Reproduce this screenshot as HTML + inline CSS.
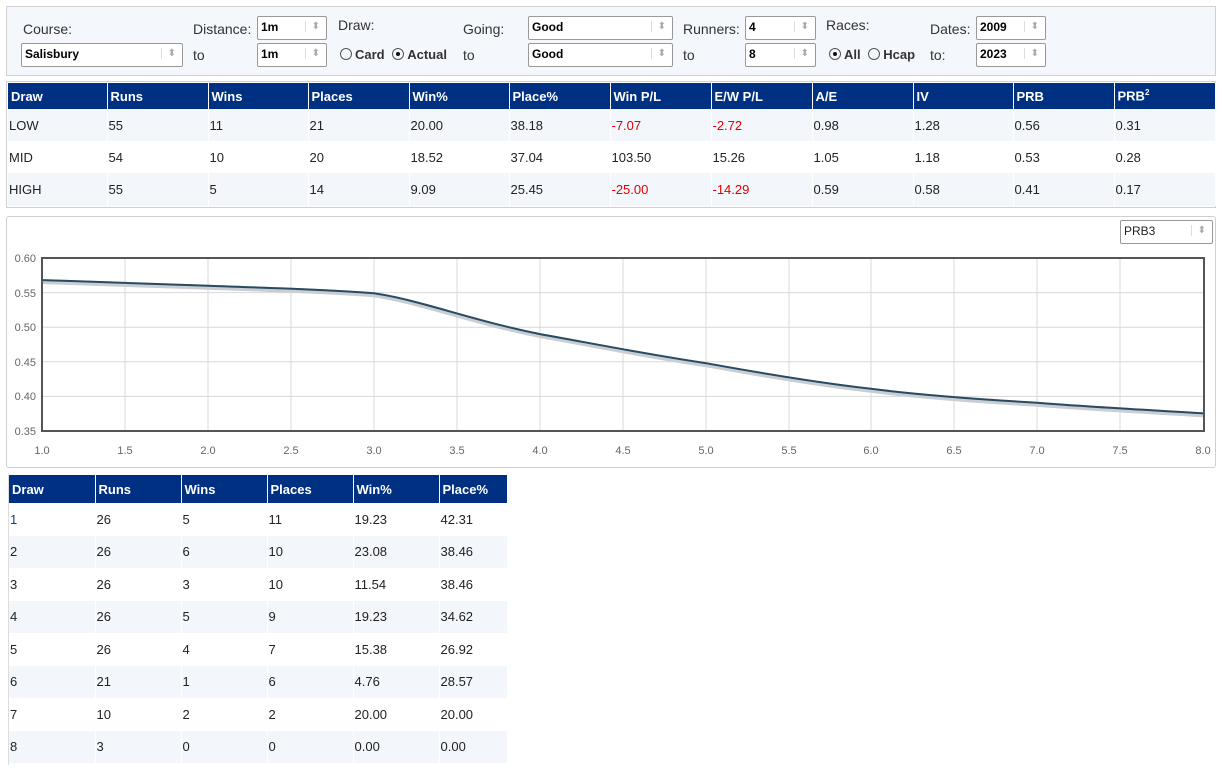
<!DOCTYPE html>
<html><head><meta charset="utf-8"><style>
*{box-sizing:border-box;margin:0;padding:0}
body{width:1222px;height:770px;background:#fff;font-family:"Liberation Sans",sans-serif;font-size:13px;color:#222;position:relative;overflow:hidden}
.a{position:absolute;white-space:nowrap}
.panel{position:absolute;left:6px;top:6px;width:1210px;height:70px;background:#f4f7fc;border:1px solid #d0d0d0}
.sel{position:absolute;height:24px;border:1px solid #999;border-radius:2px;background:#fff;font-weight:bold;font-size:12px;color:#000;padding:3px 0 0 3px}
.sel:after{content:"⬍";position:absolute;right:6px;top:4px;color:#aaa;font-size:10px;border-left:1px solid #ddd;padding-left:6px;font-weight:normal}
.lbl{position:absolute;font-size:14px;color:#333}
.rad{display:inline-block;width:12px;height:12px;border:1px solid #555;border-radius:50%;vertical-align:-1px;margin-right:3px;position:relative}
.rad.on:after{content:"";position:absolute;left:3px;top:3px;width:4px;height:4px;border-radius:50%;background:#111}
table{position:absolute;border-collapse:collapse;table-layout:fixed}
th{background:#003082;color:#fff;text-align:left;font-weight:bold;padding:0 3px;border-right:1px solid #fff;font-size:13px}
td{padding:0 1px;font-size:13px;color:#222;border-right:1px solid #fff}
tr.s td{background:#f3f6fb}
.r{color:#e00000}
</style></head><body>
<div class="panel"></div>
<div class="lbl" style="left:23px;top:21px">Course:</div>
<div class="sel" style="left:21px;top:43px;width:162px">Salisbury</div>
<div class="lbl" style="left:193px;top:21px">Distance:</div>
<div class="sel" style="left:257px;top:16px;width:70px">1m</div>
<div class="lbl" style="left:193px;top:47px">to</div>
<div class="sel" style="left:257px;top:43px;width:70px">1m</div>
<div class="lbl" style="left:338px;top:17px">Draw:</div>
<div class="lbl" style="left:340px;top:47px;font-weight:bold;font-size:13px"><span class="rad"></span>Card <span class="rad on" style="margin-left:4px"></span>Actual</div>
<div class="lbl" style="left:463px;top:21px">Going:</div>
<div class="sel" style="left:528px;top:16px;width:145px">Good</div>
<div class="lbl" style="left:463px;top:47px">to</div>
<div class="sel" style="left:528px;top:43px;width:145px">Good</div>
<div class="lbl" style="left:683px;top:21px">Runners:</div>
<div class="sel" style="left:745px;top:16px;width:71px">4</div>
<div class="lbl" style="left:683px;top:47px">to</div>
<div class="sel" style="left:745px;top:43px;width:71px">8</div>
<div class="lbl" style="left:826px;top:17px">Races:</div>
<div class="lbl" style="left:829px;top:47px;font-weight:bold;font-size:13px"><span class="rad on"></span>All <span class="rad" style="margin-left:4px"></span>Hcap</div>
<div class="lbl" style="left:930px;top:21px">Dates:</div>
<div class="sel" style="left:976px;top:16px;width:70px">2009</div>
<div class="lbl" style="left:930px;top:47px">to:</div>
<div class="sel" style="left:976px;top:43px;width:70px">2023</div>

<div class="a" style="left:6px;top:81px;width:1210px;height:127px;border:1px solid #d0d0d0"></div>
<table style="left:8px;top:83px;width:1207px">
<colgroup><col style="width:99px"><col style="width:101px"><col style="width:100px"><col style="width:101px"><col style="width:100px"><col style="width:101px"><col style="width:101px"><col style="width:101px"><col style="width:101px"><col style="width:100px"><col style="width:101px"><col style="width:101px"></colgroup>
<tr style="height:26px"><th>Draw</th><th>Runs</th><th>Wins</th><th>Places</th><th>Win%</th><th>Place%</th><th>Win P/L</th><th>E/W P/L</th><th>A/E</th><th>IV</th><th>PRB</th><th>PRB<sup style="font-size:8px">2</sup></th></tr>
<tr class="s" style="height:32px"><td>LOW</td><td>55</td><td>11</td><td>21</td><td>20.00</td><td>38.18</td><td class="r">-7.07</td><td class="r">-2.72</td><td>0.98</td><td>1.28</td><td>0.56</td><td>0.31</td></tr>
<tr style="height:32px"><td>MID</td><td>54</td><td>10</td><td>20</td><td>18.52</td><td>37.04</td><td>103.50</td><td>15.26</td><td>1.05</td><td>1.18</td><td>0.53</td><td>0.28</td></tr>
<tr class="s" style="height:33px"><td>HIGH</td><td>55</td><td>5</td><td>14</td><td>9.09</td><td>25.45</td><td class="r">-25.00</td><td class="r">-14.29</td><td>0.59</td><td>0.58</td><td>0.41</td><td>0.17</td></tr>
</table>

<div class="a" style="left:6px;top:216px;width:1210px;height:252px;border:1px solid #d0d0d0;border-radius:3px"></div>
<div class="sel" style="left:1120px;top:220px;width:93px;font-weight:normal;color:#222">PRB3</div>
<svg class="a" style="left:0;top:0" width="1222" height="770">
<g stroke="#d8d8d8" stroke-width="1">
<line x1="125" y1="258" x2="125" y2="431"/><line x1="208" y1="258" x2="208" y2="431"/><line x1="291" y1="258" x2="291" y2="431"/><line x1="374" y1="258" x2="374" y2="431"/><line x1="457" y1="258" x2="457" y2="431"/><line x1="540" y1="258" x2="540" y2="431"/><line x1="623" y1="258" x2="623" y2="431"/><line x1="706" y1="258" x2="706" y2="431"/><line x1="789" y1="258" x2="789" y2="431"/><line x1="871" y1="258" x2="871" y2="431"/><line x1="954" y1="258" x2="954" y2="431"/><line x1="1037" y1="258" x2="1037" y2="431"/><line x1="1120" y1="258" x2="1120" y2="431"/>
<line x1="42" y1="292.6" x2="1204" y2="292.6"/><line x1="42" y1="327.2" x2="1204" y2="327.2"/><line x1="42" y1="361.8" x2="1204" y2="361.8"/><line x1="42" y1="396.4" x2="1204" y2="396.4"/>
</g>
<path d="M42,280.1 C100,282 160,284 208,285.8 S320,289 374,293.3 C420,300 470,320 540,334.1 C590,343 650,355 706,363.2 C760,373 820,383 871,388.8 C920,395 990,400 1037,402.7 C1090,407 1150,410 1204,413.4" fill="none" stroke="#c8ced4" stroke-width="5" transform="translate(0,1.5)"/>
<path d="M42,280.1 C100,282 160,284 208,285.8 S320,289 374,293.3 C420,300 470,320 540,334.1 C590,343 650,355 706,363.2 C760,373 820,383 871,388.8 C920,395 990,400 1037,402.7 C1090,407 1150,410 1204,413.4" fill="none" stroke="#2a4a60" stroke-width="2"/>
<rect x="42" y="258" width="1162" height="173" fill="none" stroke="#555" stroke-width="2"/>
<g font-family="Liberation Sans, sans-serif" font-size="11" fill="#666" text-anchor="end">
<text x="36" y="262">0.60</text><text x="36" y="297">0.55</text><text x="36" y="331">0.50</text><text x="36" y="366">0.45</text><text x="36" y="400">0.40</text><text x="36" y="435">0.35</text>
</g>
<g font-family="Liberation Sans, sans-serif" font-size="11" fill="#666" text-anchor="middle">
<text x="42" y="454">1.0</text><text x="125" y="454">1.5</text><text x="208" y="454">2.0</text><text x="291" y="454">2.5</text><text x="374" y="454">3.0</text><text x="457" y="454">3.5</text><text x="540" y="454">4.0</text><text x="623" y="454">4.5</text><text x="706" y="454">5.0</text><text x="789" y="454">5.5</text><text x="871" y="454">6.0</text><text x="954" y="454">6.5</text><text x="1037" y="454">7.0</text><text x="1120" y="454">7.5</text><text x="1203" y="454">8.0</text>
</g>
</svg>

<div class="a" style="left:8px;top:473px;width:1px;height:292px;background:#ddd"></div>
<table style="left:9px;top:475px;width:498px">
<colgroup><col style="width:86px"><col style="width:86px"><col style="width:86px"><col style="width:86px"><col style="width:86px"><col style="width:68px"></colgroup>
<tr style="height:28px"><th>Draw</th><th>Runs</th><th>Wins</th><th>Places</th><th>Win%</th><th>Place%</th></tr>
<tr style="height:32.5px"><td style="color:#1a3a80">1</td><td>26</td><td>5</td><td>11</td><td>19.23</td><td>42.31</td></tr>
<tr class="s" style="height:32.5px"><td>2</td><td>26</td><td>6</td><td>10</td><td>23.08</td><td>38.46</td></tr>
<tr style="height:32.5px"><td>3</td><td>26</td><td>3</td><td>10</td><td>11.54</td><td>38.46</td></tr>
<tr class="s" style="height:32.5px"><td>4</td><td>26</td><td>5</td><td>9</td><td>19.23</td><td>34.62</td></tr>
<tr style="height:32.5px"><td>5</td><td>26</td><td>4</td><td>7</td><td>15.38</td><td>26.92</td></tr>
<tr class="s" style="height:32.5px"><td>6</td><td>21</td><td>1</td><td>6</td><td>4.76</td><td>28.57</td></tr>
<tr style="height:32.5px"><td>7</td><td>10</td><td>2</td><td>2</td><td>20.00</td><td>20.00</td></tr>
<tr class="s" style="height:32.5px"><td>8</td><td>3</td><td>0</td><td>0</td><td>0.00</td><td>0.00</td></tr>
</table>
</body></html>
